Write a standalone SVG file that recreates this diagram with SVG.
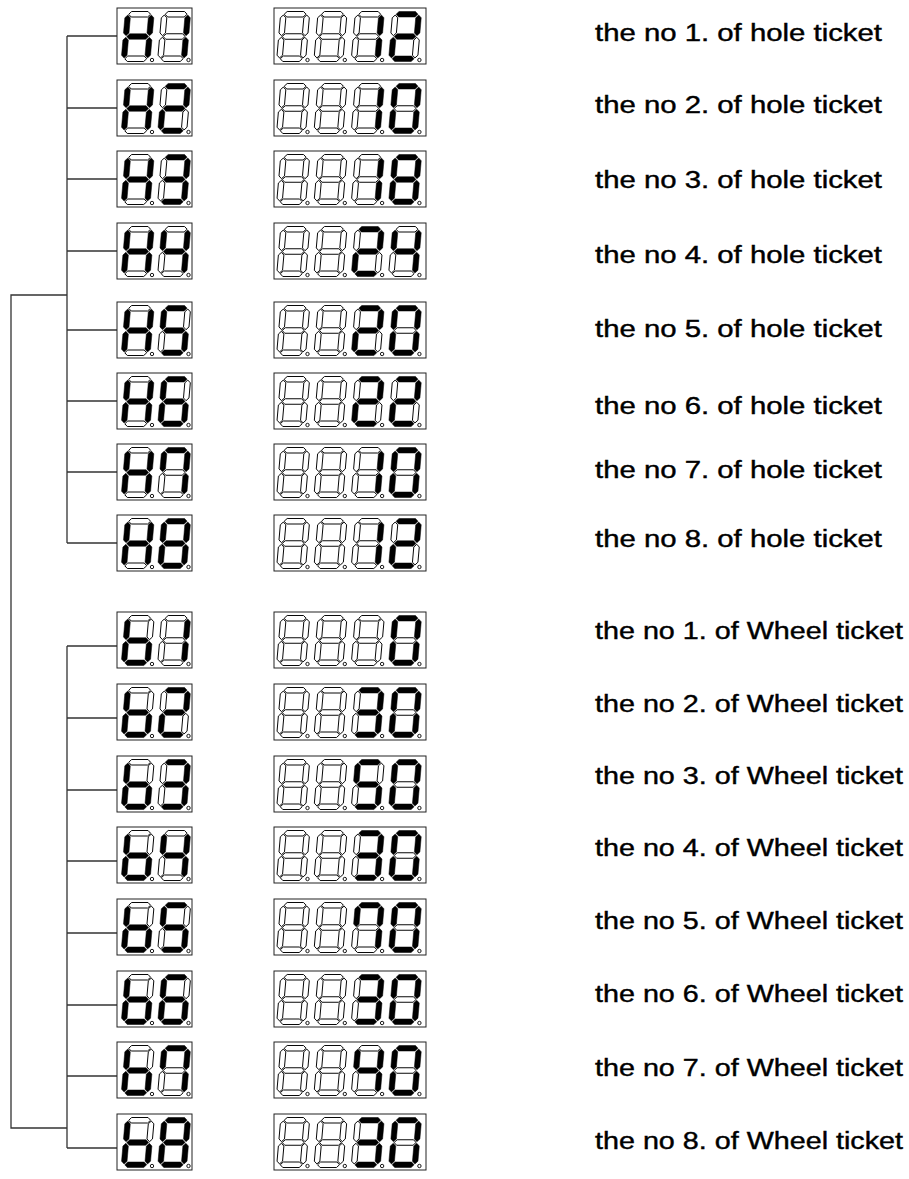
<svg xmlns="http://www.w3.org/2000/svg" xmlns:xlink="http://www.w3.org/1999/xlink" width="909" height="1179" viewBox="0 0 909 1179">
<style>
.bg{fill:#fff}
.box{fill:#fff;stroke:#222;stroke-width:1}
.on{fill:#000;stroke:#000;stroke-width:0.5;stroke-linejoin:round}
.off{fill:#fff;stroke:#000;stroke-width:0.95;stroke-linejoin:round}
.dp{fill:#fff;stroke:#000;stroke-width:0.9}
.wire{fill:none;stroke:#333;stroke-width:1.3}
.lbl{font-family:"Liberation Sans",Arial,sans-serif;font-size:23px;fill:#000;stroke:#000;stroke-width:0.4}
</style>
<defs>
<path id="sa" d="M3.55,-47.25 L6.3,-50 H22.7 L25.45,-47.25 L22.7,-44.5 H6.3 Z"/>
<path id="sb" d="M26.25,-46.45 L29,-43.7 V-28.55 L26.25,-25.8 L23.5,-28.55 V-43.7 Z"/>
<path id="sc" d="M26.25,-24.2 L29,-21.45 V-6.3 L26.25,-3.55 L23.5,-6.3 V-21.45 Z"/>
<path id="sd" d="M3.55,-2.75 L6.3,-5.5 H22.7 L25.45,-2.75 L22.7,0 H6.3 Z"/>
<path id="se" d="M2.75,-24.2 L5.5,-21.45 V-6.3 L2.75,-3.55 L0,-6.3 V-21.45 Z"/>
<path id="sf" d="M2.75,-46.45 L5.5,-43.7 V-28.55 L2.75,-25.8 L0,-28.55 V-43.7 Z"/>
<path id="sg" d="M3.55,-25 L6.3,-27.75 H22.7 L25.45,-25 L22.7,-22.25 H6.3 Z"/>
<g id="gx"><g transform="skewX(-5)"><use href="#sa" class="off"/><use href="#sb" class="off"/><use href="#sc" class="off"/><use href="#sd" class="off"/><use href="#se" class="off"/><use href="#sf" class="off"/><use href="#sg" class="off"/></g><circle cx="31" cy="-1.5" r="1.7" class="dp"/></g>
<g id="g0"><g transform="skewX(-5)"><use href="#sa" class="on"/><use href="#sb" class="on"/><use href="#sc" class="on"/><use href="#sd" class="on"/><use href="#se" class="on"/><use href="#sf" class="on"/><use href="#sg" class="off"/></g><circle cx="31" cy="-1.5" r="1.7" class="dp"/></g>
<g id="g1"><g transform="skewX(-5)"><use href="#sa" class="off"/><use href="#sb" class="on"/><use href="#sc" class="on"/><use href="#sd" class="off"/><use href="#se" class="off"/><use href="#sf" class="off"/><use href="#sg" class="off"/></g><circle cx="31" cy="-1.5" r="1.7" class="dp"/></g>
<g id="g2"><g transform="skewX(-5)"><use href="#sa" class="on"/><use href="#sb" class="on"/><use href="#sc" class="off"/><use href="#sd" class="on"/><use href="#se" class="on"/><use href="#sf" class="off"/><use href="#sg" class="on"/></g><circle cx="31" cy="-1.5" r="1.7" class="dp"/></g>
<g id="g3"><g transform="skewX(-5)"><use href="#sa" class="on"/><use href="#sb" class="on"/><use href="#sc" class="on"/><use href="#sd" class="on"/><use href="#se" class="off"/><use href="#sf" class="off"/><use href="#sg" class="on"/></g><circle cx="31" cy="-1.5" r="1.7" class="dp"/></g>
<g id="g4"><g transform="skewX(-5)"><use href="#sa" class="off"/><use href="#sb" class="on"/><use href="#sc" class="on"/><use href="#sd" class="off"/><use href="#se" class="off"/><use href="#sf" class="on"/><use href="#sg" class="on"/></g><circle cx="31" cy="-1.5" r="1.7" class="dp"/></g>
<g id="g5"><g transform="skewX(-5)"><use href="#sa" class="on"/><use href="#sb" class="off"/><use href="#sc" class="on"/><use href="#sd" class="on"/><use href="#se" class="off"/><use href="#sf" class="on"/><use href="#sg" class="on"/></g><circle cx="31" cy="-1.5" r="1.7" class="dp"/></g>
<g id="g6"><g transform="skewX(-5)"><use href="#sa" class="on"/><use href="#sb" class="off"/><use href="#sc" class="on"/><use href="#sd" class="on"/><use href="#se" class="on"/><use href="#sf" class="on"/><use href="#sg" class="on"/></g><circle cx="31" cy="-1.5" r="1.7" class="dp"/></g>
<g id="g7"><g transform="skewX(-5)"><use href="#sa" class="on"/><use href="#sb" class="on"/><use href="#sc" class="on"/><use href="#sd" class="off"/><use href="#se" class="off"/><use href="#sf" class="on"/><use href="#sg" class="off"/></g><circle cx="31" cy="-1.5" r="1.7" class="dp"/></g>
<g id="g8"><g transform="skewX(-5)"><use href="#sa" class="on"/><use href="#sb" class="on"/><use href="#sc" class="on"/><use href="#sd" class="on"/><use href="#se" class="on"/><use href="#sf" class="on"/><use href="#sg" class="on"/></g><circle cx="31" cy="-1.5" r="1.7" class="dp"/></g>
<g id="gH"><g transform="skewX(-5)"><use href="#sa" class="off"/><use href="#sb" class="on"/><use href="#sc" class="on"/><use href="#sd" class="off"/><use href="#se" class="on"/><use href="#sf" class="on"/><use href="#sg" class="on"/></g><circle cx="31" cy="-1.5" r="1.7" class="dp"/></g>
<g id="gb"><g transform="skewX(-5)"><use href="#sa" class="off"/><use href="#sb" class="off"/><use href="#sc" class="on"/><use href="#sd" class="on"/><use href="#se" class="on"/><use href="#sf" class="on"/><use href="#sg" class="on"/></g><circle cx="31" cy="-1.5" r="1.7" class="dp"/></g>
</defs>
<rect class="bg" x="0" y="0" width="909" height="1179"/>

<g id="connectors">
<path class="wire" d="M67,36 V543 M67,36 H117 M67,108 H117 M67,179 H117 M67,251 H117 M67,330 H117 M67,401 H117 M67,472 H117 M67,543 H117"/>
<path class="wire" d="M67,646 V1148 M67,646 H117 M67,718 H117 M67,790 H117 M67,861 H117 M67,933 H117 M67,1005 H117 M67,1076 H117 M67,1148 H117"/>
<path class="wire" d="M67,295 H11 V1128 H67"/>
</g>

<g id="H1"><rect class="box" x="117" y="8" width="75" height="56"/><use href="#gH" x="121" y="61.5"/><use href="#g1" x="157.5" y="61.5"/></g>
<g id="H1v"><rect class="box" x="274" y="8" width="152" height="56"/><use href="#gx" x="276.5" y="61.5"/><use href="#gx" x="313.8" y="61.5"/><use href="#g1" x="351.1" y="61.5"/><use href="#g2" x="388.4" y="61.5"/></g>
<text id="H1t" class="lbl" x="595" y="41" textLength="287" lengthAdjust="spacingAndGlyphs">the no 1. of hole ticket</text>

<g id="H2"><rect class="box" x="117" y="80" width="75" height="56"/><use href="#gH" x="121" y="133.5"/><use href="#g2" x="157.5" y="133.5"/></g>
<g id="H2v"><rect class="box" x="274" y="80" width="152" height="56"/><use href="#gx" x="276.5" y="133.5"/><use href="#gx" x="313.8" y="133.5"/><use href="#g1" x="351.1" y="133.5"/><use href="#g0" x="388.4" y="133.5"/></g>
<text id="H2t" class="lbl" x="595" y="113" textLength="287" lengthAdjust="spacingAndGlyphs">the no 2. of hole ticket</text>

<g id="H3"><rect class="box" x="117" y="151" width="75" height="56"/><use href="#gH" x="121" y="204.5"/><use href="#g3" x="157.5" y="204.5"/></g>
<g id="H3v"><rect class="box" x="274" y="151" width="152" height="56"/><use href="#gx" x="276.5" y="204.5"/><use href="#gx" x="313.8" y="204.5"/><use href="#g1" x="351.1" y="204.5"/><use href="#g8" x="388.4" y="204.5"/></g>
<text id="H3t" class="lbl" x="595" y="188" textLength="287" lengthAdjust="spacingAndGlyphs">the no 3. of hole ticket</text>

<g id="H4"><rect class="box" x="117" y="223" width="75" height="56"/><use href="#gH" x="121" y="276.5"/><use href="#g4" x="157.5" y="276.5"/></g>
<g id="H4v"><rect class="box" x="274" y="223" width="152" height="56"/><use href="#gx" x="276.5" y="276.5"/><use href="#gx" x="313.8" y="276.5"/><use href="#g2" x="351.1" y="276.5"/><use href="#g4" x="388.4" y="276.5"/></g>
<text id="H4t" class="lbl" x="595" y="263" textLength="287" lengthAdjust="spacingAndGlyphs">the no 4. of hole ticket</text>

<g id="H5"><rect class="box" x="117" y="302" width="75" height="56"/><use href="#gH" x="121" y="355.5"/><use href="#g5" x="157.5" y="355.5"/></g>
<g id="H5v"><rect class="box" x="274" y="302" width="152" height="56"/><use href="#gx" x="276.5" y="355.5"/><use href="#gx" x="313.8" y="355.5"/><use href="#g2" x="351.1" y="355.5"/><use href="#g0" x="388.4" y="355.5"/></g>
<text id="H5t" class="lbl" x="595" y="337" textLength="287" lengthAdjust="spacingAndGlyphs">the no 5. of hole ticket</text>

<g id="H6"><rect class="box" x="117" y="373" width="75" height="56"/><use href="#gH" x="121" y="426.5"/><use href="#g6" x="157.5" y="426.5"/></g>
<g id="H6v"><rect class="box" x="274" y="373" width="152" height="56"/><use href="#gx" x="276.5" y="426.5"/><use href="#gx" x="313.8" y="426.5"/><use href="#g2" x="351.1" y="426.5"/><use href="#g2" x="388.4" y="426.5"/></g>
<text id="H6t" class="lbl" x="595" y="414" textLength="287" lengthAdjust="spacingAndGlyphs">the no 6. of hole ticket</text>

<g id="H7"><rect class="box" x="117" y="444" width="75" height="56"/><use href="#gH" x="121" y="497.5"/><use href="#g7" x="157.5" y="497.5"/></g>
<g id="H7v"><rect class="box" x="274" y="444" width="152" height="56"/><use href="#gx" x="276.5" y="497.5"/><use href="#gx" x="313.8" y="497.5"/><use href="#g1" x="351.1" y="497.5"/><use href="#g0" x="388.4" y="497.5"/></g>
<text id="H7t" class="lbl" x="595" y="478" textLength="287" lengthAdjust="spacingAndGlyphs">the no 7. of hole ticket</text>

<g id="H8"><rect class="box" x="117" y="515" width="75" height="56"/><use href="#gH" x="121" y="568.5"/><use href="#g8" x="157.5" y="568.5"/></g>
<g id="H8v"><rect class="box" x="274" y="515" width="152" height="56"/><use href="#gx" x="276.5" y="568.5"/><use href="#gx" x="313.8" y="568.5"/><use href="#g1" x="351.1" y="568.5"/><use href="#g2" x="388.4" y="568.5"/></g>
<text id="H8t" class="lbl" x="595" y="547" textLength="287" lengthAdjust="spacingAndGlyphs">the no 8. of hole ticket</text>

<g id="b1"><rect class="box" x="117" y="612" width="75" height="56"/><use href="#gb" x="121" y="665.5"/><use href="#g1" x="157.5" y="665.5"/></g>
<g id="b1v"><rect class="box" x="274" y="612" width="152" height="56"/><use href="#gx" x="276.5" y="665.5"/><use href="#gx" x="313.8" y="665.5"/><use href="#gx" x="351.1" y="665.5"/><use href="#g0" x="388.4" y="665.5"/></g>
<text id="b1t" class="lbl" x="595" y="639" textLength="308" lengthAdjust="spacingAndGlyphs">the no 1. of Wheel ticket</text>

<g id="b2"><rect class="box" x="117" y="684" width="75" height="56"/><use href="#gb" x="121" y="737.5"/><use href="#g2" x="157.5" y="737.5"/></g>
<g id="b2v"><rect class="box" x="274" y="684" width="152" height="56"/><use href="#gx" x="276.5" y="737.5"/><use href="#gx" x="313.8" y="737.5"/><use href="#g3" x="351.1" y="737.5"/><use href="#g0" x="388.4" y="737.5"/></g>
<text id="b2t" class="lbl" x="595" y="712" textLength="308" lengthAdjust="spacingAndGlyphs">the no 2. of Wheel ticket</text>

<g id="b3"><rect class="box" x="117" y="756" width="75" height="56"/><use href="#gb" x="121" y="809.5"/><use href="#g3" x="157.5" y="809.5"/></g>
<g id="b3v"><rect class="box" x="274" y="756" width="152" height="56"/><use href="#gx" x="276.5" y="809.5"/><use href="#gx" x="313.8" y="809.5"/><use href="#g5" x="351.1" y="809.5"/><use href="#g0" x="388.4" y="809.5"/></g>
<text id="b3t" class="lbl" x="595" y="784" textLength="308" lengthAdjust="spacingAndGlyphs">the no 3. of Wheel ticket</text>

<g id="b4"><rect class="box" x="117" y="827" width="75" height="56"/><use href="#gb" x="121" y="880.5"/><use href="#g4" x="157.5" y="880.5"/></g>
<g id="b4v"><rect class="box" x="274" y="827" width="152" height="56"/><use href="#gx" x="276.5" y="880.5"/><use href="#gx" x="313.8" y="880.5"/><use href="#g3" x="351.1" y="880.5"/><use href="#g0" x="388.4" y="880.5"/></g>
<text id="b4t" class="lbl" x="595" y="856" textLength="308" lengthAdjust="spacingAndGlyphs">the no 4. of Wheel ticket</text>

<g id="b5"><rect class="box" x="117" y="899" width="75" height="56"/><use href="#gb" x="121" y="952.5"/><use href="#g5" x="157.5" y="952.5"/></g>
<g id="b5v"><rect class="box" x="274" y="899" width="152" height="56"/><use href="#gx" x="276.5" y="952.5"/><use href="#gx" x="313.8" y="952.5"/><use href="#g7" x="351.1" y="952.5"/><use href="#g0" x="388.4" y="952.5"/></g>
<text id="b5t" class="lbl" x="595" y="929" textLength="308" lengthAdjust="spacingAndGlyphs">the no 5. of Wheel ticket</text>

<g id="b6"><rect class="box" x="117" y="971" width="75" height="56"/><use href="#gb" x="121" y="1024.5"/><use href="#g6" x="157.5" y="1024.5"/></g>
<g id="b6v"><rect class="box" x="274" y="971" width="152" height="56"/><use href="#gx" x="276.5" y="1024.5"/><use href="#gx" x="313.8" y="1024.5"/><use href="#g3" x="351.1" y="1024.5"/><use href="#g0" x="388.4" y="1024.5"/></g>
<text id="b6t" class="lbl" x="595" y="1002" textLength="308" lengthAdjust="spacingAndGlyphs">the no 6. of Wheel ticket</text>

<g id="b7"><rect class="box" x="117" y="1042" width="75" height="56"/><use href="#gb" x="121" y="1095.5"/><use href="#g7" x="157.5" y="1095.5"/></g>
<g id="b7v"><rect class="box" x="274" y="1042" width="152" height="56"/><use href="#gx" x="276.5" y="1095.5"/><use href="#gx" x="313.8" y="1095.5"/><use href="#g4" x="351.1" y="1095.5"/><use href="#g0" x="388.4" y="1095.5"/></g>
<text id="b7t" class="lbl" x="595" y="1076" textLength="308" lengthAdjust="spacingAndGlyphs">the no 7. of Wheel ticket</text>

<g id="b8"><rect class="box" x="117" y="1114" width="75" height="56"/><use href="#gb" x="121" y="1167.5"/><use href="#g8" x="157.5" y="1167.5"/></g>
<g id="b8v"><rect class="box" x="274" y="1114" width="152" height="56"/><use href="#gx" x="276.5" y="1167.5"/><use href="#gx" x="313.8" y="1167.5"/><use href="#g3" x="351.1" y="1167.5"/><use href="#g0" x="388.4" y="1167.5"/></g>
<text id="b8t" class="lbl" x="595" y="1149" textLength="308" lengthAdjust="spacingAndGlyphs">the no 8. of Wheel ticket</text>
</svg>
